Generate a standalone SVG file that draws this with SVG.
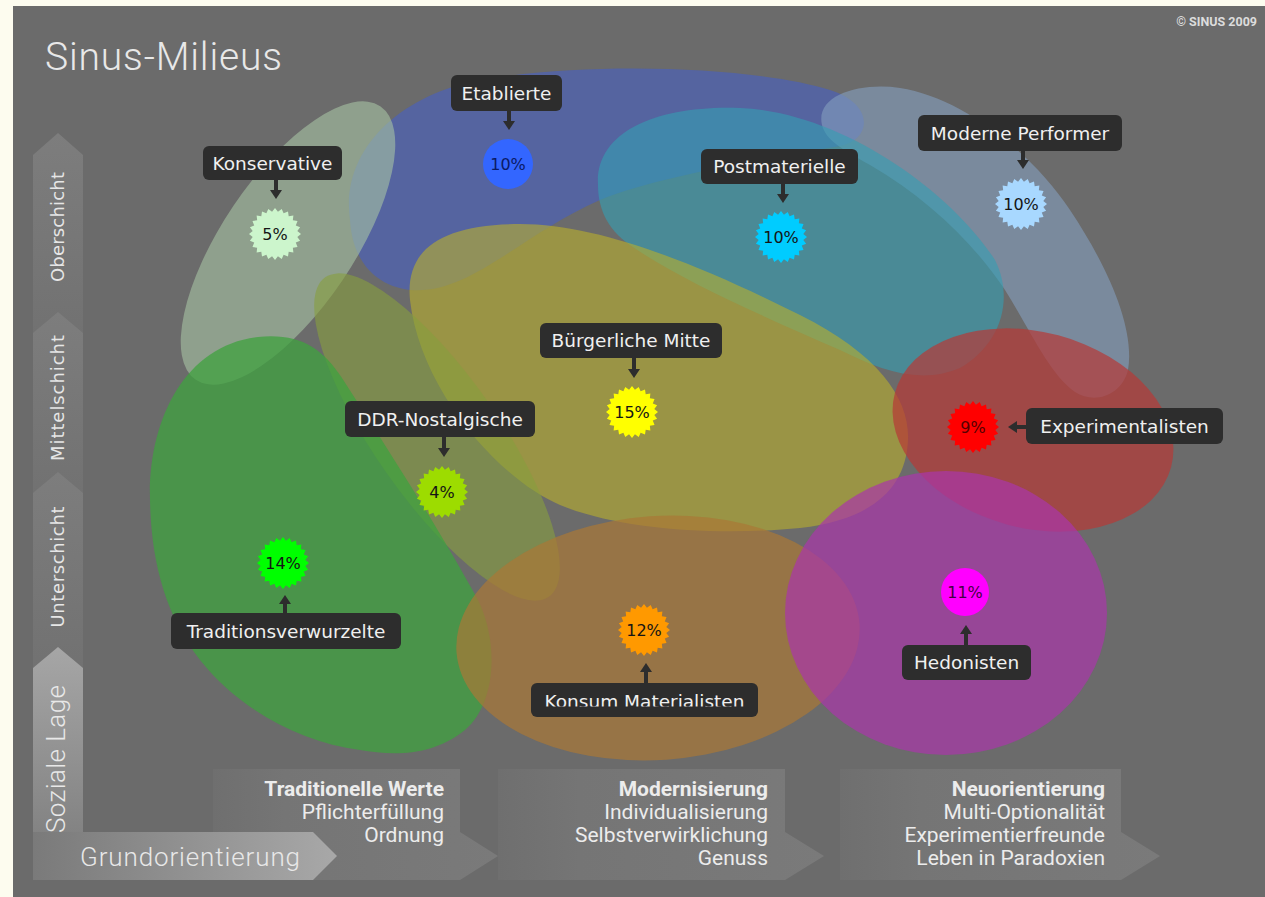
<svg xmlns="http://www.w3.org/2000/svg" xmlns:xlink="http://www.w3.org/1999/xlink" width="1265" height="897" viewBox="0 0 1265 897">
<style>
.lbl rect{fill:#2d2d2d}
.lbl text{font-family:"DejaVu Sans",Roboto,sans-serif;font-size:18.5px;fill:#f0f0f0;text-anchor:middle}
.lbl .pct{font-family:"DejaVu Sans",Roboto,sans-serif;font-size:16px;fill:#151515;text-anchor:middle}
.ax{font-family:"DejaVu Sans",Roboto,sans-serif;font-size:18px;fill:#e6e6e6;text-anchor:middle}
.big{font-family:Roboto,"Liberation Sans",sans-serif;font-weight:300;fill:#e8e8e8}
.bt{font-family:Roboto,"Liberation Sans",sans-serif;font-size:21px;fill:#ececec;text-anchor:end}
.bt .h{font-weight:bold}
.conn line{stroke:#2d2d2d;stroke-width:4}
.seg{fill:url(#gSeg)}
.box{fill:url(#gBox)}
</style>
<defs>
<linearGradient id="gSeg" x1="0" y1="0" x2="0" y2="1"><stop offset="0" stop-color="#7d7d7d"/><stop offset="1" stop-color="#717171"/></linearGradient>
<linearGradient id="gBox" x1="0" y1="0" x2="1" y2="0"><stop offset="0" stop-color="#6f6f6f"/><stop offset="0.25" stop-color="#757575"/><stop offset="1" stop-color="#7a7a7a"/></linearGradient>
<linearGradient id="gV" x1="0" y1="647" x2="0" y2="880" gradientUnits="userSpaceOnUse"><stop offset="0" stop-color="#a6a6a6"/><stop offset="1" stop-color="#7a7a7a"/></linearGradient>
<linearGradient id="gH" x1="33" y1="0" x2="337" y2="0" gradientUnits="userSpaceOnUse"><stop offset="0" stop-color="#7a7a7a"/><stop offset="1" stop-color="#a8a8a8"/></linearGradient>
<path id="star" d="M26,0 L22.31,2.94 L25.11,6.73 L20.79,8.61 L22.52,13 L17.85,13.7 L18.38,18.38 L13.7,17.85 L13,22.52 L8.61,20.79 L6.73,25.11 L2.94,22.31 L0,26 L-2.94,22.31 L-6.73,25.11 L-8.61,20.79 L-13,22.52 L-13.7,17.85 L-18.38,18.38 L-17.85,13.7 L-22.52,13 L-20.79,8.61 L-25.11,6.73 L-22.31,2.94 L-26,0 L-22.31,-2.94 L-25.11,-6.73 L-20.79,-8.61 L-22.52,-13 L-17.85,-13.7 L-18.38,-18.38 L-13.7,-17.85 L-13,-22.52 L-8.61,-20.79 L-6.73,-25.11 L-2.94,-22.31 L0,-26 L2.94,-22.31 L6.73,-25.11 L8.61,-20.79 L13,-22.52 L13.7,-17.85 L18.38,-18.38 L17.85,-13.7 L22.52,-13 L20.79,-8.61 L25.11,-6.73 L22.31,-2.94 Z"/>
<marker id="ah" viewBox="0 0 9 12" refX="1" refY="6" markerWidth="9" markerHeight="12" markerUnits="userSpaceOnUse" orient="auto"><path d="M0,0 L9,6 L0,12 Z" fill="#2d2d2d"/></marker>
<clipPath id="clipK"><rect x="531" y="683" width="227" height="23.5"/></clipPath>
</defs>

<rect x="0" y="0" width="1265" height="897" fill="#fdfcef"/>
<rect x="13" y="6" width="1252" height="891" fill="#6b6b6b"/>

<text class="big" x="45" y="70" font-size="39" textLength="237">Sinus-Milieus</text>
<text x="1257" y="26" font-family="Roboto,'Liberation Sans',sans-serif" font-weight="bold" font-size="12.5" fill="#dcdcdc" text-anchor="end">© SINUS 2009</text>

<g id="axis-soziale-lage">
<path class="seg" d="M33,155 L58,133 L83,155 L83,340 L33,340 Z"/>
<path class="seg" d="M33,333 L58,312 L83,333 L83,500 L33,500 Z"/>
<path class="seg" d="M33,493 L58,472 L83,493 L83,675 L33,675 Z"/>
<path d="M33,668 L58,647 L83,668 L83,880 L33,880 Z" fill="url(#gV)"/>
<text class="ax" transform="translate(64,227) rotate(-90)" textLength="110">Oberschicht</text>
<text class="ax" transform="translate(64,398) rotate(-90)" textLength="126">Mittelschicht</text>
<text class="ax" transform="translate(64,567) rotate(-90)" textLength="121">Unterschicht</text>
<text class="big" font-size="26" text-anchor="middle" transform="translate(65,759) rotate(-90)" textLength="148">Soziale Lage</text>
</g>

<g id="axis-grundorientierung">
<path class="box" d="M213,769 H460 V832 L498,856 L460,880 H213 Z"/>
<path class="box" d="M498,769 H785 V832 L824,856 L785,880 H498 Z"/>
<path class="box" d="M840,769 H1121 V832 L1160,856 L1121,880 H840 Z"/>
<path d="M33,832 H313 L337,856 L313,880 H33 Z" fill="url(#gH)"/>
<text class="big" x="80" y="866" font-size="26" textLength="220">Grundorientierung</text>
<text class="bt"><tspan class="h" x="444" y="796">Traditionelle Werte</tspan><tspan x="444" y="819">Pflichterfüllung</tspan><tspan x="444" y="842">Ordnung</tspan></text>
<text class="bt"><tspan class="h" x="768" y="796">Modernisierung</tspan><tspan x="768" y="819">Individualisierung</tspan><tspan x="768" y="842">Selbstverwirklichung</tspan><tspan x="768" y="865">Genuss</tspan></text>
<text class="bt"><tspan class="h" x="1105" y="796">Neuorientierung</tspan><tspan x="1105" y="819">Multi-Optionalität</tspan><tspan x="1105" y="842">Experimentierfreunde</tspan><tspan x="1105" y="865">Leben in Paradoxien</tspan></text>
</g>

<g id="areas">
<path id="area-etablierte" d="M350,220 C340,150 400,95 480,80 C600,60 760,68 830,90 C875,104 872,140 840,146 C760,160 660,176 600,200 C520,235 470,295 410,290 C370,285 352,255 350,220 Z" fill="#4c61b7" fill-opacity="0.7"/>
<ellipse id="area-konservative" cx="288" cy="243" rx="165" ry="66" transform="rotate(-56 288 243)" fill="#a7c3a4" fill-opacity="0.6"/>
<path id="area-moderne-performer" d="M822,125 C815,95 860,82 900,88 C960,97 1030,150 1070,210 C1110,270 1135,330 1128,370 C1122,395 1095,405 1075,392 C1050,375 1030,330 1005,290 C975,245 930,200 870,165 C840,148 826,140 822,125 Z" fill="#849fbe" fill-opacity="0.6"/>
<path id="area-postmaterielle" d="M598,185 C595,130 660,105 740,108 C840,112 950,190 995,260 C1015,300 1000,345 960,368 C920,385 880,370 840,350 C760,315 680,280 630,245 C605,228 598,205 598,185 Z" fill="#349fb3" fill-opacity="0.6"/>
<path id="area-buergerliche-mitte" d="M410,300 C405,250 440,224 520,224 C600,224 700,265 800,315 C880,355 910,400 908,440 C906,490 870,520 800,528 C720,536 620,530 560,505 C500,480 420,390 410,300 Z" fill="#b9af2c" fill-opacity="0.6"/>
<ellipse id="area-ddr" cx="437" cy="437" rx="195" ry="62" transform="rotate(55 437 437)" fill="#879f3e" fill-opacity="0.6"/>
<path id="area-traditionsverwurzelte" d="M150,500 C148,420 185,345 258,337 C300,333 322,348 342,378 C385,445 440,530 478,600 C500,645 495,705 465,730 C430,758 390,755 360,750 C300,742 240,710 200,660 C165,615 151,560 150,500 Z" fill="#3fa23f" fill-opacity="0.75"/>
<ellipse id="area-konsum" cx="658" cy="638" rx="202" ry="122" transform="rotate(-4 658 638)" fill="#a97736" fill-opacity="0.7"/>
<ellipse id="area-experimentalisten" cx="1033" cy="430" rx="143" ry="98" transform="rotate(15 1033 430)" fill="#b73936" fill-opacity="0.7"/>
<ellipse id="area-hedonisten" cx="946" cy="613" rx="161" ry="142" fill="#a936a9" fill-opacity="0.7"/>
</g>

<g id="connectors" class="conn">
<line x1="276" y1="180" x2="276" y2="191" marker-end="url(#ah)"/>
<line x1="509" y1="111" x2="509" y2="122" marker-end="url(#ah)"/>
<line x1="783" y1="184" x2="783" y2="195" marker-end="url(#ah)"/>
<line x1="1023" y1="151" x2="1023" y2="161" marker-end="url(#ah)"/>
<line x1="634" y1="358" x2="634" y2="370" marker-end="url(#ah)"/>
<line x1="444" y1="437" x2="444" y2="449" marker-end="url(#ah)"/>
<line x1="1026" y1="427" x2="1016" y2="427" marker-end="url(#ah)"/>
<line x1="966" y1="645" x2="966" y2="633" marker-end="url(#ah)"/>
<line x1="285" y1="613" x2="285" y2="603" marker-end="url(#ah)"/>
<line x1="646" y1="683" x2="646" y2="671" marker-end="url(#ah)"/>
</g>

<g id="node-konservative" class="lbl">
<rect x="203" y="146" width="139" height="34" rx="6"/>
<text x="272.5" y="170">Konservative</text>
<use href="#star" x="275" y="234" fill="#ccf5cc"/>
<text class="pct" x="275" y="240">5%</text>
</g>
<g id="node-etablierte" class="lbl">
<rect x="451" y="75" width="111" height="36" rx="6"/>
<text x="506.5" y="100">Etablierte</text>
<circle cx="508" cy="164" r="25" fill="#3366ff"/>
<text class="pct" x="508" y="170" style="fill:#0a1a66">10%</text>
</g>
<g id="node-postmaterielle" class="lbl">
<rect x="701" y="149" width="157" height="35" rx="6"/>
<text x="779.5" y="173">Postmaterielle</text>
<use href="#star" x="781" y="237" fill="#00ccff"/>
<text class="pct" x="781" y="243">10%</text>
</g>
<g id="node-moderne-performer" class="lbl">
<rect x="918" y="115" width="204" height="36" rx="6"/>
<text x="1020" y="140">Moderne Performer</text>
<use href="#star" x="1021" y="204" fill="#a8d8ff"/>
<text class="pct" x="1021" y="210">10%</text>
</g>
<g id="node-buergerliche-mitte" class="lbl">
<rect x="540" y="323" width="182" height="35" rx="6"/>
<text x="631" y="347">Bürgerliche Mitte</text>
<use href="#star" x="632" y="412" fill="#ffff00"/>
<text class="pct" x="632" y="418">15%</text>
</g>
<g id="node-ddr-nostalgische" class="lbl">
<rect x="345" y="401" width="190" height="36" rx="6"/>
<text x="440" y="426">DDR-Nostalgische</text>
<use href="#star" x="442" y="492" fill="#9ddc00"/>
<text class="pct" x="442" y="498">4%</text>
</g>
<g id="node-experimentalisten" class="lbl">
<rect x="1026" y="408" width="197" height="36" rx="6"/>
<text x="1124.5" y="433">Experimentalisten</text>
<use href="#star" x="973" y="427" fill="#ff0000"/>
<text class="pct" x="973" y="433" style="fill:#550000">9%</text>
</g>
<g id="node-traditionsverwurzelte" class="lbl">
<rect x="171" y="613" width="230" height="36" rx="6"/>
<text x="286" y="638">Traditionsverwurzelte</text>
<use href="#star" x="283" y="563" fill="#00ff00"/>
<text class="pct" x="283" y="569">14%</text>
</g>
<g id="node-konsum-materialisten" class="lbl">
<rect x="531" y="683" width="227" height="34" rx="6"/>
<text x="644.5" y="708" clip-path="url(#clipK)">Konsum Materialisten</text>
<use href="#star" x="644" y="630" fill="#ff9900"/>
<text class="pct" x="644" y="636">12%</text>
</g>
<g id="node-hedonisten" class="lbl">
<rect x="902" y="645" width="129" height="35" rx="6"/>
<text x="966.5" y="669">Hedonisten</text>
<circle cx="965" cy="592" r="24" fill="#ff00ff"/>
<text class="pct" x="965" y="598" style="fill:#440044">11%</text>
</g>
</svg>
